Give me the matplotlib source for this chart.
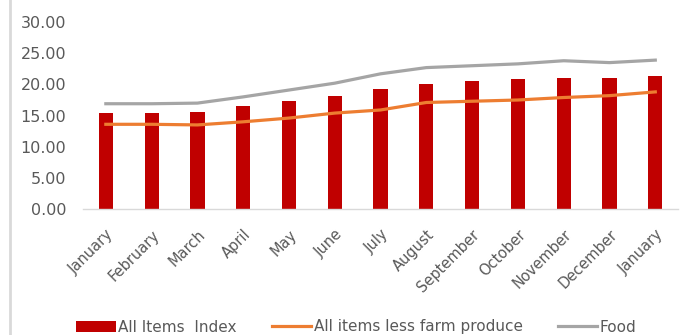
import numpy as np
import matplotlib.pyplot as plt
from matplotlib.lines import Line2D

# monthly index values
months = ["January", "February", "March", "April", "May", "June", "July",
          "August", "September", "October", "November", "December", "January"]
all_items = [15.4, 15.4, 15.6, 16.5, 17.3, 18.2, 19.3, 20.1, 20.6, 20.8, 21.1, 21.0, 21.4]
less_farm = [13.6, 13.6, 13.5, 14.0, 14.6, 15.4, 15.9, 17.1, 17.3, 17.5, 17.9, 18.2, 18.8]
food = [16.9, 16.9, 17.0, 18.0, 19.1, 20.2, 21.7, 22.7, 23.0, 23.3, 23.8, 23.5, 23.9]

x = np.arange(len(months))
txt = "#595959"

fig = plt.figure(figsize=(6.97, 3.35), dpi=100)
ax = fig.add_axes([0.119, 0.376, 0.854, 0.558])

b = ax.bar(x, all_items, width=0.31, color="#c00000", label="All Items  Index", zorder=2)
l1, = ax.plot(x, less_farm, color="#ed7d31", lw=2.3, label="All items less farm produce", zorder=3)
l2, = ax.plot(x, food, color="#a5a5a5", lw=2.3, label="Food", zorder=3)

ax.set_xlim(-0.5, len(months) - 0.5)
ax.set_ylim(0, 30)
ax.set_yticks(np.arange(0, 31, 5))
ax.set_yticklabels([f"{v:.2f}" for v in np.arange(0, 31, 5)], color=txt, fontsize=11.5)
ax.set_xticks(x)
ax.set_xticklabels(months, rotation=45, ha="right", rotation_mode="anchor",
                   color=txt, fontsize=10.5)
ax.tick_params(axis="y", length=0, pad=12)
ax.tick_params(axis="x", length=0, pad=13)
for s in ["top", "right", "left"]:
    ax.spines[s].set_visible(False)
ax.spines["bottom"].set_color("#d9d9d9")
ax.spines["bottom"].set_linewidth(1)

# legend along the bottom
fig.legend(handles=[b, l1, l2], loc="center", bbox_to_anchor=(0.511, 8 / 335), ncol=3,
           frameon=False, fontsize=11, labelcolor=txt, handlelength=2.6,
           handletextpad=0.15, columnspacing=2.3)

# left border of the chart box
fig.add_artist(Line2D([10 / 697, 10 / 697], [0, 1], color="#d9d9d9", lw=2,
                      transform=fig.transFigure))

fig.savefig("out.png", dpi=100)
